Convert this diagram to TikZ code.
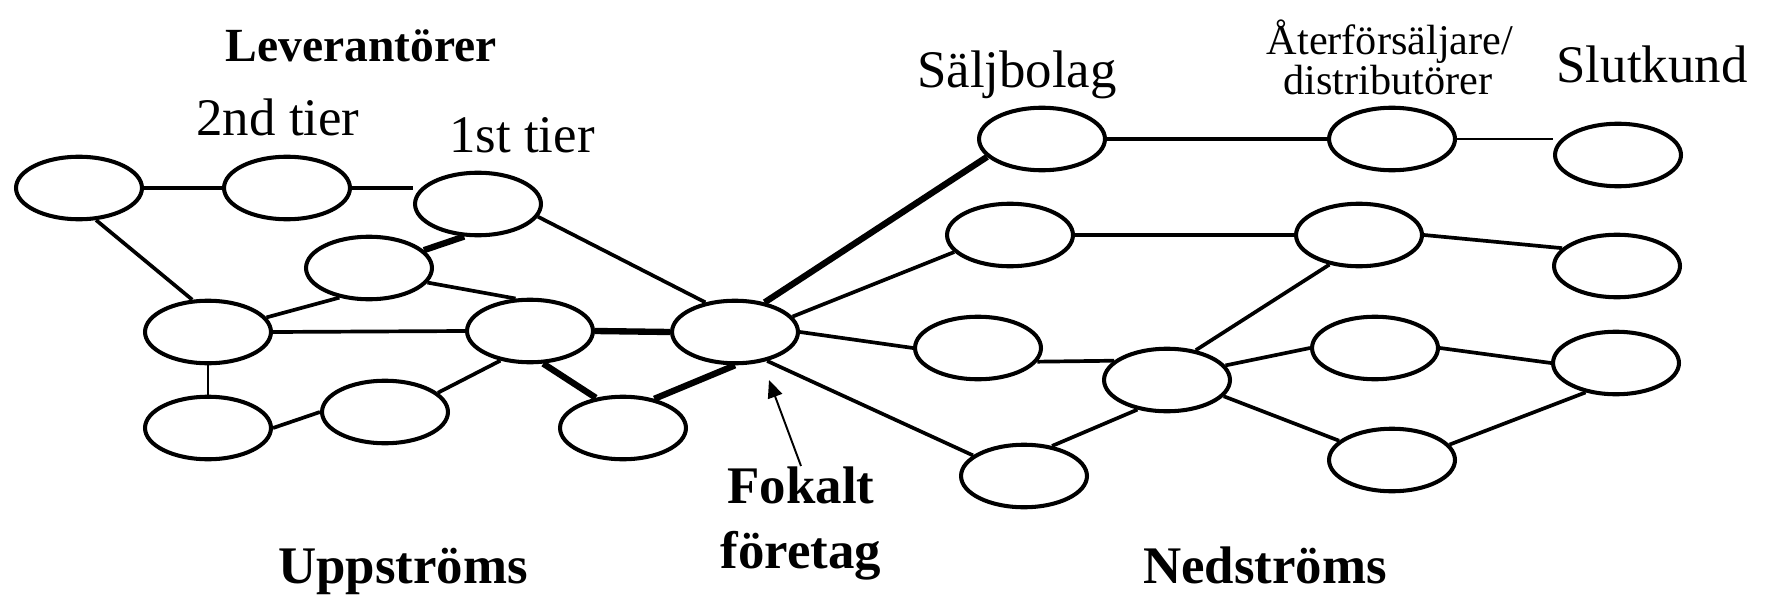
\documentclass[tikz,border=0pt]{standalone}
\usepackage{fontspec}
\setmainfont{Liberation Serif}
\usetikzlibrary{shapes.geometric,arrows.meta}

\begin{document}
\begin{tikzpicture}[x=0.5677pt,y=-0.5677pt,
  actor/.style={ellipse,draw,line width=2.3pt,minimum width=71.5pt,minimum height=35.5pt,inner sep=0pt},
  link/.style={line width=2.1pt},
  strong/.style={line width=3.6pt},
  weak/.style={line width=1.1pt},
  lbl/.style={anchor=base,inner sep=0pt,font=\fontsize{30}{36}\selectfont},
  boldlbl/.style={lbl,font=\fontsize{30}{36}\selectfont\bfseries},
  smalllbl/.style={anchor=base,inner sep=0pt,font=\fontsize{24}{29}\selectfont}]
\useasboundingbox (0,0) rectangle (1765,595);

% upstream suppliers
\node[actor] (E1) at (79,188) {};
\node[actor] (E2) at (287,188) {};
\node[actor] (E3) at (478,204) {};
\node[actor] (E4) at (369,268) {};
\node[actor] (E5) at (208,332) {};
\node[actor] (E6) at (208,428) {};
\node[actor] (E7) at (385,412) {};
\node[actor] (E8) at (530,331) {};
\node[actor] (E9) at (623,428) {};
% focal company
\node[actor] (F) at (735,332) {};
% downstream
\node[actor] (S1) at (1042,139) {};
\node[actor] (S2) at (1010,235) {};
\node[actor] (S3) at (978,348) {};
\node[actor] (S4) at (1024,476) {};
\node[actor] (M) at (1167,380) {};
\node[actor] (R1) at (1392,139) {};
\node[actor] (R2) at (1359,235) {};
\node[actor] (R3) at (1375,348) {};
\node[actor] (R4) at (1392,460) {};
\node[actor] (C1) at (1618,155) {};
\node[actor] (C2) at (1617,266) {};
\node[actor] (C3) at (1616,363) {};

% upstream links
\draw[link] (E1.east) -- (E2.west);
\draw[link] (E2.east) -- (E3.west |- E2.east);
\draw[link] (E1.-62.7) -- (E5.116.6);
\draw[strong] (E3.-113.4) -- (E4.18.4);
\draw[link] (E5.14.4) -- (E4.-135.9);
\draw[link] (E4.-14) -- (E8.114.4);
\draw[link] (E5.east) -- (E8.west);
\draw[weak] (E5.south) -- (E6.north);
\draw[link] (E6.east) -- (E7.west);
\draw[link] (E7.20.4) -- (E8.-135.9);
\draw[strong] (E8.-68.5) -- (E9.132.3);
\draw[strong] (E8.east) -- (F.west);
\draw[link] (E3.-12.2) -- (F.135);
\draw[strong] (E9.43.3) -- (F.south);

% downstream links
\draw[strong] (F.45) -- (S1.-162.6);
\draw[link] (F.15.3) -- (S2.-163);
\draw[link] (F.east) -- (S3.west);
\draw[link] (F.-42.4) -- (S4.158.4);
\draw[link] (S1.east) -- (R1.west);
\draw[weak] (R1.east) -- (R1.east -| C1.west);
\draw[link] (S2.east) -- (R2.west);
\draw[link] (R2.east) -- (C2.162.9);
\draw[link] (M.46.7) -- (R2.-135.9);
\draw[link] (S3.-13.9) -- (M.160.8);
\draw[link] (S4.47.7) -- (M.-135.9);
\draw[link] (M.14.9) -- (R3.west);
\draw[link] (R3.east) -- (C3.west);
\draw[link] (M.-16.1) -- (R4.160.6);
\draw[link] (R4.15.1) -- (C3.-136.7);

% labels
\node[anchor=base,inner sep=0pt,font=\fontsize{27}{32}\selectfont\bfseries] (lev) at (361,62) {Leverantörer};
\node[lbl] (tier2) at (278,135) {2nd tier};
\node[lbl] (tier1) at (522,152) {1st tier};
\node[lbl] (salj) at (1017,88) {Säljbolag};
\node[smalllbl] (ater) at (1390,55) {Återförsäljare/};
\node[smalllbl] (dist) at (1388,95) {distributörer};
\node[lbl] (slut) at (1652,83) {Slutkund};
\node[boldlbl] (fokalt) at (801,503) {Fokalt};
\node[boldlbl] (foretag) at (801,568) {företag};
\node[boldlbl] (upp) at (403,583) {Uppströms};
\node[boldlbl] (ned) at (1265,583) {Nedströms};

% pointer to the focal company
\coordinate (ftip) at (769,380);
\draw[weak,-{Triangle[length=10pt,width=8.5pt]}] (fokalt.north) -- (ftip);
\end{tikzpicture}
\end{document}
